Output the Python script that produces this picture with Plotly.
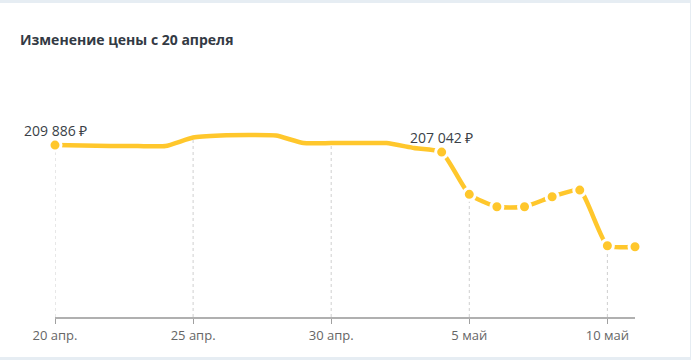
import plotly.graph_objects as go

# ---- data ----
dates = ["2024-04-20", "2024-04-21", "2024-04-22", "2024-04-23", "2024-04-24",
         "2024-04-25", "2024-04-26", "2024-04-27", "2024-04-28", "2024-04-29",
         "2024-04-30", "2024-05-01", "2024-05-02", "2024-05-03", "2024-05-04",
         "2024-05-05", "2024-05-06", "2024-05-07", "2024-05-08", "2024-05-09",
         "2024-05-10", "2024-05-11"]
prices = [209886, 209680, 209480, 209480, 209480,
          212930, 213750, 213950, 213750, 210700,
          210700, 210700, 210700, 208670, 207042,
          189850, 184820, 184820, 188880, 191600,
          168970, 168570]
marker_dates = ["2024-04-20", "2024-05-04", "2024-05-05", "2024-05-06", "2024-05-07",
                "2024-05-08", "2024-05-09", "2024-05-10", "2024-05-11"]
tick_vals = ["2024-04-20", "2024-04-25", "2024-04-30", "2024-05-05", "2024-05-10"]
tick_text = ["20 апр.", "25 апр.", "30 апр.", "5 май", "10 май"]
labelled = [("2024-04-20", 209886, "209 886 ₽"), ("2024-05-04", 207042, "207 042 ₽")]
y_min = 140000
y_max = 240400

price_of = dict(zip(dates, prices))

YELLOW = "#FFC72C"
FONT = "Open Sans"

fig = go.Figure()

# drop lines at tick dates
for d in tick_vals:
    fig.add_trace(go.Scatter(
        x=[d, d], y=[y_min, price_of[d]], mode="lines",
        line=dict(color="#cfcfcf", width=1, dash="3px,3px"),
        hoverinfo="skip", showlegend=False, cliponaxis=False))

# main line
fig.add_trace(go.Scatter(
    x=dates, y=prices, mode="lines",
    line=dict(color=YELLOW, width=4.5, shape="spline", smoothing=0.5),
    showlegend=False, cliponaxis=False))

# markers with white halo
fig.add_trace(go.Scatter(
    x=marker_dates, y=[price_of[d] for d in marker_dates], mode="markers",
    marker=dict(color=YELLOW, size=12, line=dict(color="white", width=3)),
    showlegend=False, cliponaxis=False))

annotations = []
for d, v, t in labelled:
    annotations.append(dict(x=d, y=v, text=t, showarrow=False, yshift=15,
                            xanchor="center", yanchor="middle",
                            font=dict(family=FONT, size=14, color="#3a3f47")))

fig.update_layout(
    width=691, height=360,
    margin=dict(l=55, r=56, t=70, b=43),
    paper_bgcolor="#e6edf3",
    plot_bgcolor="rgba(0,0,0,0)",
    font=dict(family=FONT),
    title=dict(text="<b>Изменение цены с 20 апреля</b>", x=20 / 691, xanchor="left",
               xref="container", y=1 - 40 / 360, yref="container", yanchor="middle",
               font=dict(family=FONT, size=14, color="#333a44")),
    annotations=annotations,
    shapes=[dict(type="rect", xref="paper", yref="paper", layer="below",
                 x0=-55 / 580, x1=(690 - 55) / 580,
                 y0=-(357 - 317) / 247, y1=(317 - 3) / 247,
                 fillcolor="white", line=dict(width=0))],
    xaxis=dict(range=["2024-04-20", "2024-05-11"], showgrid=False, zeroline=False,
               showline=True, linecolor="#b0b0b0", linewidth=2,
               ticks="outside", ticklen=5, tickcolor="#a0a0a0", tickwidth=1,
               tickvals=tick_vals, ticktext=tick_text,
               tickfont=dict(family=FONT, size=13, color="#666666")),
    yaxis=dict(range=[y_min, y_max], visible=False),
    hovermode=False,
)

fig.write_html("out.html", config={"displayModeBar": False},
               post_script="document.body.style.margin='0';document.body.style.overflow='hidden';")
